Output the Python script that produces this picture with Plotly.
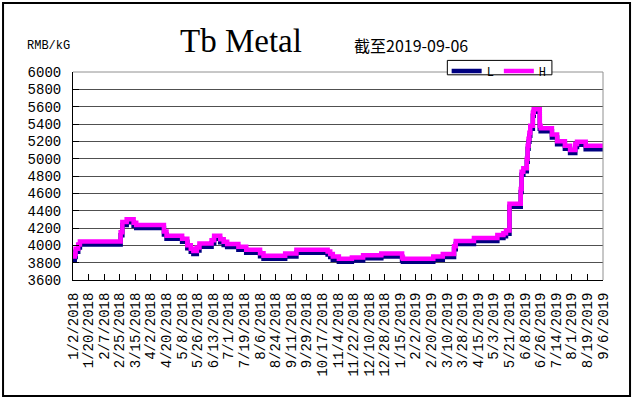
import plotly.graph_objects as go

# ---- data (step change points) ----
dates = [
    "2018-01-02", "2018-01-04", "2018-01-05", "2018-01-08", "2018-01-10",
    "2018-02-26", "2018-02-28", "2018-03-05", "2018-03-13", "2018-03-16",
    "2018-04-17", "2018-04-20", "2018-05-08", "2018-05-14", "2018-05-18",
    "2018-05-21", "2018-05-25", "2018-05-28", "2018-06-11", "2018-06-14",
    "2018-06-21", "2018-06-25", "2018-06-29", "2018-07-12", "2018-07-21",
    "2018-08-06", "2018-08-10", "2018-09-04", "2018-09-17", "2018-10-23",
    "2018-10-26", "2018-10-29", "2018-11-05", "2018-11-20", "2018-12-03",
    "2018-12-24", "2019-01-17", "2019-01-18", "2019-02-22", "2019-03-05",
    "2019-03-18", "2019-03-20", "2019-04-10", "2019-05-07", "2019-05-14",
    "2019-05-17", "2019-05-21", "2019-06-03", "2019-06-04", "2019-06-06",
    "2019-06-10", "2019-06-11", "2019-06-12", "2019-06-13", "2019-06-14",
    "2019-06-17", "2019-06-18", "2019-06-25", "2019-06-26", "2019-07-09",
    "2019-07-15", "2019-07-24", "2019-07-30", "2019-08-05", "2019-08-07",
    "2019-08-17", "2019-09-06",
]
high = [
    3870, 3900, 3960, 4010, 4045,
    4150, 4270, 4300, 4260, 4235,
    4160, 4110, 4075, 4000, 3960,
    3935, 3975, 4020, 4060, 4110,
    4070, 4040, 4015, 3985, 3950,
    3910, 3880, 3905, 3950, 3930,
    3900, 3870, 3845, 3860, 3885,
    3905, 3860, 3845, 3870, 3900,
    3990, 4050, 4085, 4120, 4140,
    4170, 4480, 4650, 4850, 4890,
    5000, 5150, 5230, 5300, 5380,
    5530, 5570, 5380, 5350, 5280,
    5200, 5150, 5100, 5170, 5195,
    5150, 5150,
]
low = [
    3835, 3865, 3925, 3975, 4010,
    4115, 4235, 4265, 4225, 4200,
    4125, 4075, 4040, 3965, 3925,
    3900, 3940, 3985, 4025, 4075,
    4035, 4005, 3980, 3950, 3915,
    3875, 3845, 3870, 3915, 3895,
    3865, 3835, 3810, 3825, 3850,
    3870, 3825, 3810, 3835, 3865,
    3955, 4015, 4050, 4085, 4105,
    4135, 4445, 4615, 4815, 4855,
    4965, 5115, 5195, 5265, 5345,
    5495, 5540, 5345, 5315, 5245,
    5165, 5115, 5065, 5135, 5160,
    5110, 5110,
]

tick_dates = [
    "2018-01-02", "2018-01-20", "2018-02-07", "2018-02-25", "2018-03-15",
    "2018-04-02", "2018-04-20", "2018-05-08", "2018-05-26", "2018-06-13",
    "2018-07-01", "2018-07-19", "2018-08-06", "2018-08-24", "2018-09-11",
    "2018-09-29", "2018-10-17", "2018-11-04", "2018-11-22", "2018-12-10",
    "2018-12-28", "2019-01-15", "2019-02-02", "2019-02-20", "2019-03-10",
    "2019-03-28", "2019-04-15", "2019-05-03", "2019-05-21", "2019-06-08",
    "2019-06-26", "2019-07-14", "2019-08-01", "2019-08-19", "2019-09-06",
]
tick_labels = [
    "1/2/2018", "1/20/2018", "2/7/2018", "2/25/2018", "3/15/2018",
    "4/2/2018", "4/20/2018", "5/8/2018", "5/26/2018", "6/13/2018",
    "7/1/2018", "7/19/2018", "8/6/2018", "8/24/2018", "9/11/2018",
    "9/29/2018", "10/17/2018", "11/4/2018", "11/22/2018", "12/10/2018",
    "12/28/2018", "1/15/2019", "2/2/2019", "2/20/2019", "3/10/2019",
    "3/28/2019", "4/15/2019", "5/3/2019", "5/21/2019", "6/8/2019",
    "6/26/2019", "7/14/2019", "8/1/2019", "8/19/2019", "9/6/2019",
]
y_ticks = [3600, 3800, 4000, 4200, 4400, 4600, 4800, 5000, 5200, 5400, 5600, 5800, 6000]

MONO = "Liberation Mono"

fig = go.Figure()
fig.add_trace(go.Scatter(x=dates, y=low, name="L", mode="lines",
                         line=dict(color="#000080", width=4.5, shape="hv")))
fig.add_trace(go.Scatter(x=dates, y=high, name="H", mode="lines",
                         line=dict(color="#FF00FF", width=4.5, shape="hv")))

fig.update_layout(
    width=635, height=401,
    margin=dict(l=73, r=32, t=72, b=121),
    paper_bgcolor="white", plot_bgcolor="white",
    showlegend=True,
    legend=dict(orientation="h", x=0.705, y=1.075, xanchor="left", yanchor="top",
                bgcolor="rgba(0,0,0,0)", borderwidth=0,
                font=dict(family=MONO, size=12, color="black"),
                itemwidth=30, tracegroupgap=0),
    xaxis=dict(type="date", range=["2018-01-02", "2019-09-06"],
               tickmode="array", tickvals=tick_dates, ticktext=tick_labels,
               tickangle=-90, ticks="inside", ticklen=6, tickcolor="black",
               showgrid=False, showline=True, linecolor="black", linewidth=1,
               tickfont=dict(family=MONO, size=14, color="black"),
               ticklabelstandoff=6, zeroline=False),
    yaxis=dict(range=[3600, 6000], tickmode="array", tickvals=y_ticks,
               ticks="inside", ticklen=6, tickcolor="black",
               showgrid=True, gridcolor="#505050", gridwidth=1,
               showline=True, linecolor="black", linewidth=1,
               tickfont=dict(family=MONO, size=14, color="black"),
               ticklabelstandoff=8, zeroline=False),
    shapes=[
        # outer chart border
        dict(type="rect", xref="paper", yref="paper", x0=-0.132, x1=1.051,
             y0=-0.558, y1=1.332, line=dict(color="black", width=2)),
        # plot area top & right border
        dict(type="line", xref="paper", yref="paper", x0=0, x1=1, y0=1, y1=1,
             line=dict(color="#909090", width=1)),
        dict(type="line", xref="paper", yref="paper", x0=1, x1=1, y0=0, y1=1,
             line=dict(color="#909090", width=1)),
        # legend box
        dict(type="rect", xref="paper", yref="paper", x0=0.7063, x1=0.9036,
             y0=0.9865, y1=1.0558, fillcolor="white",
             line=dict(color="black", width=1), layer="above"),
    ],
    annotations=[
        dict(text="Tb Metal", xref="paper", yref="paper", x=(241 - 73) / 530,
             y=1 + (72 - 41) / 208, xanchor="center", yanchor="middle",
             showarrow=False, font=dict(family="Liberation Serif", size=33, color="black")),
        dict(text="截至2019-09-06", xref="paper", yref="paper", x=(352 - 73) / 530,
             y=1 + (72 - 45) / 208, xanchor="left", yanchor="middle",
             showarrow=False, font=dict(family="Noto Sans CJK SC", size=16, color="black")),
        dict(text="RMB/kG", xref="paper", yref="paper", x=(25 - 73) / 530,
             y=1 + (72 - 46) / 208, xanchor="left", yanchor="middle",
             showarrow=False, font=dict(family=MONO, size=12, color="black")),
    ],
)

fig.write_html("out.html", config={"displayModeBar": False},
               post_script="document.body.style.margin='0';")
